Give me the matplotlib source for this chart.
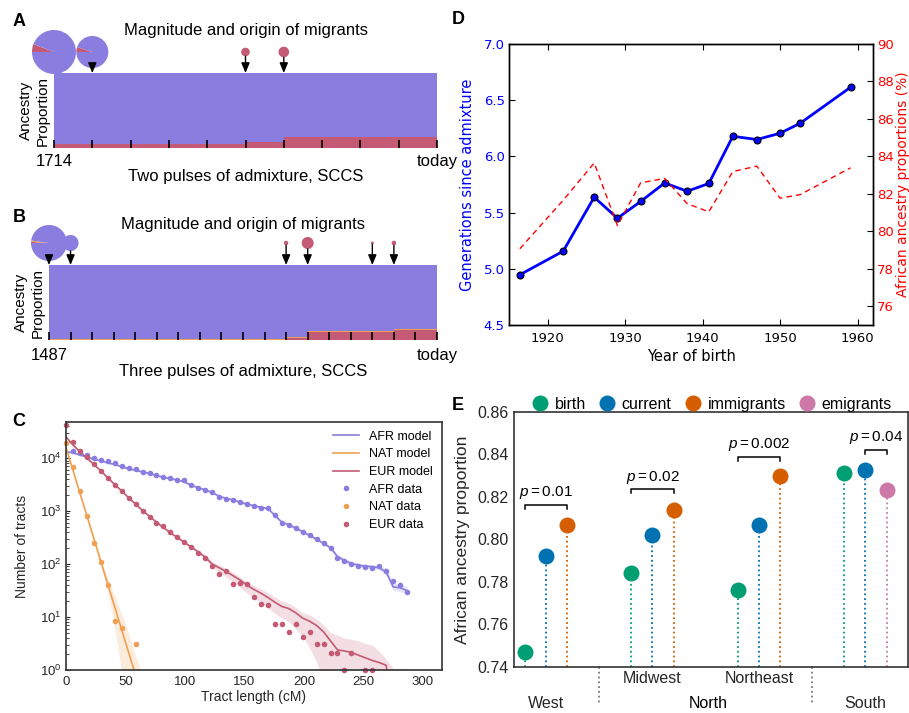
import numpy as np
import matplotlib
matplotlib.use("Agg")
import matplotlib.pyplot as plt
from matplotlib.patches import Wedge
from matplotlib.lines import Line2D
import matplotlib.transforms as mtransforms

plt.rcParams["font.family"] = ["Liberation Sans", "DejaVu Sans"]
plt.rcParams["mathtext.fontset"] = "custom"
plt.rcParams["mathtext.rm"] = "Liberation Sans"
plt.rcParams["mathtext.it"] = "Liberation Sans:italic"
plt.rcParams["mathtext.bf"] = "Liberation Sans:bold"

W, H = 909, 713

C_AFR = "#897ddf"
C_EUR = "#c45a73"
C_NAT = "#f0a052"

# ---- panels A/B: pulse models (ancestry per generation, migrant pulses) ----
A_EUR = [0.054, 0.054, 0.054, 0.054, 0.054, 0.085, 0.142, 0.142, 0.142, 0.142]
A_NAT = [0.0] * 10
A_PULSE_GEN = [0, 1, 5, 6]
A_PULSE_SIZE = [22, 16, 4.3, 5.3]
A_PULSE_EUR = [0.058, 0.05, 1.0, 1.0]
A_PULSE_NAT = [0.0, 0.0, 0.0, 0.0]

B_EUR = [0.0] * 11 + [0.027] + [0.11] * 4 + [0.13] * 2
B_NAT = [0.013] * 18
B_PULSE_GEN = [0, 1, 11, 12, 15, 16]
B_PULSE_SIZE = [18, 8, 2.2, 6, 1.5, 2.3]
B_PULSE_EUR = [0.01, 0.0, 1.0, 1.0, 1.0, 1.0]
B_PULSE_NAT = [0.012, 0.0, 0.0, 0.0, 0.0, 0.0]

# ---- panel C: tract length distribution (log10 counts per bin) ----
BIN_CM = 5.85
AFR_DATA_LOG10 = [4.14, 4.09, 4.05, 4.01, 3.97, 3.94, 3.91, 3.86, 3.82, 3.79,
                  3.74, 3.72, 3.68, 3.65, 3.62, 3.59, 3.58, 3.50, 3.43, 3.39,
                  3.36, 3.27, 3.23, 3.20, 3.17, 3.13, 3.10, 3.05, 3.05, 2.92,
                  2.78, 2.74, 2.68, 2.61, 2.54, 2.47, 2.39, 2.31, 2.12, 2.06,
                  2.00, 1.97, 1.95, 1.93, 1.96, 1.86, 1.68, 1.60, 1.48]  # bins 1..49
NAT_DATA_LOG10 = [4.28, 3.84, 3.38, 2.91, 2.39, 2.04, 1.60, 0.93, 0.80, np.nan, 0.50]
EUR_DATA_LOG10 = [4.63, 4.30, 4.14, 4.02, 3.88, 3.76, 3.63, 3.50, 3.37, 3.24,
                  3.13, 3.00, 2.89, 2.78, 2.71, 2.61, 2.51, 2.42, 2.32, 2.21,
                  2.12, 1.96, 1.81, 1.87, 1.63, 1.64, 1.62, 1.38, 1.25, 1.22,
                  0.87, 0.87, 0.72, 0.87, 0.62, 0.72, 0.50, 0.50, 0.33, 0.33,
                  0.0, 0.33, np.nan, 0.0, 0.0]

AFR_MODEL_LOG10 = [4.12, 4.10, 4.06, 4.02, 3.98, 3.95, 3.91, 3.88, 3.84, 3.80,
                   3.77, 3.74, 3.71, 3.67, 3.64, 3.61, 3.59, 3.55, 3.49, 3.44,
                   3.40, 3.35, 3.28, 3.24, 3.21, 3.17, 3.13, 3.10, 3.07, 3.05,
                   2.92, 2.79, 2.74, 2.68, 2.61, 2.54, 2.47, 2.39, 2.31, 2.14,
                   2.07, 2.01, 1.98, 1.96, 1.95, 1.93, 1.85, 1.57, 1.55, 1.50]
AFR_BAND_LOG10 = [0.02] * 30 + [0.03] * 9 + [0.04] * 7 + [0.07] * 4
NAT_MODEL_LOG10 = [4.20, 3.77, 3.34, 2.91, 2.48, 2.05, 1.62, 1.19, 0.76, 0.33, -0.10, -0.53]
NAT_BAND_UP = [0.02, 0.02, 0.02, 0.03, 0.04, 0.06, 0.10, 0.20, 0.30, 0.35, 0.35, 0.45]
NAT_BAND_DOWN = [0.02, 0.02, 0.02, 0.03, 0.05, 0.08, 0.15, 0.40, 0.80, 0.80, 0.80, 0.80]
EUR_MODEL_LOG10 = [4.40, 4.25, 4.12, 4.00, 3.88, 3.76, 3.63, 3.50, 3.38, 3.25,
                   3.13, 3.01, 2.90, 2.79, 2.69, 2.59, 2.50, 2.41, 2.32, 2.23,
                   2.13, 2.00, 1.93, 1.86, 1.78, 1.70, 1.60, 1.52, 1.45, 1.37,
                   1.28, 1.20, 1.16, 1.08, 0.98, 0.92, 0.84, 0.72, 0.55, 0.38,
                   0.36, 0.33, 0.28, 0.23, 0.18, 0.14, 0.09, -1.0, -1.0, -1.0]
EUR_BAND_UP = [0.02] * 20 + [0.04, 0.05, 0.05, 0.06, 0.06, 0.06, 0.06, 0.07, 0.08, 0.09,
                             0.10, 0.10, 0.10, 0.10, 0.10, 0.12, 0.12, 0.13, 0.15, 0.28,
                             0.24, 0.25, 0.27, 0.27, 0.29, 0.21, 0.11, 1.03, 1.03, 1.03]
EUR_BAND_DOWN = [0.02] * 20 + [0.05, 0.06, 0.08, 0.10, 0.12, 0.14, 0.15, 0.16, 0.18, 0.20,
                               0.21, 0.22, 0.25, 0.30, 0.35, 0.50, 0.70, 0.90, 1.0, 1.0,
                               1.0, 1.0, 1.0, 1.0, 1.0, 1.0, 1.0, 1.0, 1.0, 1.0]

# ---- panel D: by year of birth ----
BIRTH_YEAR = [1916.4, 1922.0, 1926.0, 1929.0, 1932.0, 1935.1, 1938.0,
              1940.8, 1943.9, 1947.0, 1950.0, 1952.6, 1959.1]
GENERATIONS = [4.947, 5.157, 5.637, 5.450, 5.599, 5.764, 5.690,
               5.759, 6.179, 6.150, 6.206, 6.295, 6.615]
AFR_PERCENT = [79.07, 81.66, 83.65, 80.31, 82.59, 82.82, 81.48,
               81.04, 83.19, 83.48, 81.77, 81.96, 83.39]

# ---- panel E: African ancestry by region ----
E_GROUPS = ["birth", "current", "immigrants", "emigrants"]
E_COLORS = ["#009E73", "#0072B2", "#D55E00", "#CC79A7"]
E_POS = {"birth": [0, 5, 10, 15], "current": [1, 6, 11, 16],
         "immigrants": [2, 7, 12], "emigrants": [17]}
E_VALUES = {"birth": [0.7471, 0.7844, 0.7764, 0.8315],
            "current": [0.7921, 0.8023, 0.8067, 0.8329],
            "immigrants": [0.8070, 0.8140, 0.8297],
            "emigrants": [0.8231]}
P_PAIRS = [(0, 2), (5, 7), (10, 12), (16, 17)]
P_LEVEL = [0.8164, 0.8236, 0.8390, 0.8423]
P_TEXT = ["0.01", "0.02", "0.002", "0.04"]

fig = plt.figure(figsize=(W / 100, H / 100), dpi=100)


def px_axes(x0, y0, x1, y1):
    return fig.add_axes([x0 / W, 1 - y1 / H, (x1 - x0) / W, (y1 - y0) / H])


def letter(x, y, s):
    fig.text(x / W, 1 - y / H, s, fontsize=13, fontweight="bold", ha="center", va="center")


def admixture_panel(rect, top, lift, eur, nat, gens, sizes, p_eur, p_nat,
                    start, caption, pad, title_y):
    x0, y0, x1, y1 = rect
    n = len(eur)
    eur = np.array(eur)
    nat = np.array(nat)
    idx = np.arange(n)
    ax = px_axes(*rect)
    ax.bar(idx, eur, width=1, align="edge", color=C_EUR, lw=0)
    ax.bar(idx, nat, bottom=eur, width=1, align="edge", color=C_NAT, lw=0)
    ax.bar(idx, 1 - eur - nat, bottom=eur + nat, width=1, align="edge", color=C_AFR, lw=0)
    ax.set_xlim(0, n)
    ax.set_ylim(0, 1)
    for s in ax.spines.values():
        s.set_visible(False)
    ax.set_yticks([])
    ax.set_xticks(np.arange(n + 1))
    ax.set_xticklabels([start] + [""] * (n - 1) + ["today"], fontsize=12)
    ax.tick_params(axis="x", direction="in", length=5.8, width=1.2, color="k", pad=pad)
    ax.set_xlabel(caption, fontsize=12, labelpad=0.5)
    ax.set_ylabel("Ancestry\nProportion", fontsize=11, linespacing=1.3, labelpad=3)

    # magnitude / origin of migrant pulses
    pax = px_axes(x0, top, x1, y0)
    upp = n / (x1 - x0)
    pax.set_xlim(0, n)
    pax.set_ylim(0, (y0 - top) * upp)
    pax.axis("off")
    cy = lift * upp
    for g, s, fe, fn in zip(gens, sizes, p_eur, p_nat):
        r = s * upp
        theta = 180.0
        for frac, col in [(fe, C_EUR), (fn, C_NAT), (1 - fe - fn, C_AFR)]:
            if frac <= 0:
                continue
            pax.add_patch(Wedge((g, cy), r, theta - 360 * frac, theta,
                                facecolor=col, edgecolor="none", clip_on=False))
            theta -= 360 * frac
        if cy - r > upp:
            pax.annotate("", xy=(g, 0), xytext=(g, cy - r), annotation_clip=False,
                         arrowprops=dict(arrowstyle="-|>,head_length=0.6,head_width=0.25",
                                         color="k", lw=1, shrinkA=0, shrinkB=0,
                                         mutation_scale=10))
    fig.text((x0 + x1) / 2 / W, 1 - title_y / H, "Magnitude and origin of migrants",
             fontsize=12, ha="center", va="center")


admixture_panel((54, 73, 437, 148), 25, 21, A_EUR, A_NAT, A_PULSE_GEN, A_PULSE_SIZE,
                A_PULSE_EUR, A_PULSE_NAT, "1714", "Two pulses of admixture, SCCS", 4, 30)
admixture_panel((49, 265, 437, 340), 215, 22, B_EUR, B_NAT, B_PULSE_GEN, B_PULSE_SIZE,
                B_PULSE_EUR, B_PULSE_NAT, "1487", "Three pulses of admixture, SCCS", 6, 225)
letter(19, 21, "A")
letter(19, 217, "B")

# ---- panel C ----
axc = px_axes(66, 422, 442, 670)
bins = np.arange(50) * BIN_CM


def model(ax, vals, up, down, color, label):
    v = np.array(vals)
    x = bins[:len(v)]
    ax.fill_between(x, 10 ** (v - np.array(down)), 10 ** (v + np.array(up)),
                    color=color, alpha=0.2, lw=0)
    ax.plot(x, 10 ** v, color=color, lw=1.2, label=label)


model(axc, AFR_MODEL_LOG10, AFR_BAND_LOG10, AFR_BAND_LOG10, C_AFR, "AFR model")
model(axc, NAT_MODEL_LOG10, NAT_BAND_UP, NAT_BAND_DOWN, C_NAT, "NAT model")
model(axc, EUR_MODEL_LOG10, EUR_BAND_UP, EUR_BAND_DOWN, C_EUR, "EUR model")
axc.plot(bins[1:1 + len(AFR_DATA_LOG10)], 10 ** np.array(AFR_DATA_LOG10), "o", ms=4,
         mew=0, color=C_AFR, label="AFR data", clip_on=False)
axc.plot(bins[:len(NAT_DATA_LOG10)], 10 ** np.array(NAT_DATA_LOG10), "o", ms=4,
         mew=0, color=C_NAT, label="NAT data", clip_on=False)
axc.plot(bins[:len(EUR_DATA_LOG10)], 10 ** np.array(EUR_DATA_LOG10), "o", ms=4,
         mew=0, color=C_EUR, label="EUR data", clip_on=False)
axc.set_yscale("log")
axc.set_xlim(0, 316)
axc.set_ylim(1, 48000)
axc.set_xticks([0, 50, 100, 150, 200, 250, 300])
for s in axc.spines.values():
    s.set_color("#333333")
    s.set_linewidth(1.2)
axc.tick_params(axis="both", which="both", direction="in", colors="#262626", labelsize=9.5)
axc.tick_params(axis="x", length=0, pad=4)
axc.tick_params(axis="y", which="major", length=3, pad=3)
axc.tick_params(axis="y", which="minor", length=2)
axc.set_xlabel("Tract length (cM)", fontsize=10, color="#262626", labelpad=2)
axc.set_ylabel("Number of tracts", fontsize=10, color="#262626", labelpad=8)
axc.legend(loc="upper right", frameon=False, fontsize=9, handlelength=2.1,
           handletextpad=0.8, labelspacing=0.45, borderaxespad=0.3, numpoints=1)
letter(19, 422, "C")

# ---- panel D ----
axd = px_axes(509, 44, 873, 325)
axd.plot(BIRTH_YEAR, GENERATIONS, color="b", lw=2, marker="o", ms=5,
         mfc="b", mec="k", mew=0.8)
axd.set_xlim(1915, 1962)
axd.set_ylim(4.5, 7.0)
axd.set_xticks([1920, 1930, 1940, 1950, 1960])
axd.set_yticks([4.5, 5.0, 5.5, 6.0, 6.5, 7.0])
axd.set_yticklabels(["4.5", "5.0", "5.5", "6.0", "6.5", "7.0"])
axd2 = axd.twinx()
axd2.plot(BIRTH_YEAR, AFR_PERCENT, color="r", lw=1, ls="--", dashes=(4, 3))
axd2.set_ylim(75, 90)
axd2.set_yticks([76, 78, 80, 82, 84, 86, 88, 90])
for a in (axd, axd2):
    for s in a.spines.values():
        s.set_color("k")
        s.set_linewidth(1)
    for lab in a.get_xticklabels() + a.get_yticklabels():
        lab.set_family("DejaVu Sans")
axd.tick_params(axis="x", direction="in", length=4, top=True, labelsize=9.5, pad=5)
axd.tick_params(axis="y", direction="in", length=4, colors="k", labelsize=9.5, labelcolor="b", pad=3)
axd2.tick_params(axis="y", direction="in", length=4, labelsize=9.5, labelcolor="r", pad=3)
axd.set_xlabel("Year of birth", fontsize=10.5, family="DejaVu Sans", labelpad=3)
axd.set_ylabel("Generations since admixture", fontsize=10.5, color="b",
               family="DejaVu Sans", labelpad=6)
axd2.set_ylabel("African ancestry proportions (%)", fontsize=10, color="r",
                family="DejaVu Sans", labelpad=1.5)
letter(458, 20, "D")

# ---- panel E ----
axe = px_axes(514, 412, 908, 667)
handles = []
for grp, col in zip(E_GROUPS, E_COLORS):
    xs, ys = E_POS[grp], E_VALUES[grp]
    axe.vlines(xs, 0.74, ys, colors=col, linestyles=":", lw=1.3, zorder=2)
    axe.plot(xs, ys, "o", ms=11.5, color=col, mew=0, zorder=3)
    handles.append(Line2D([], [], marker="o", ls="", ms=11.5, color=col, mew=0))
for (a, b), lev, txt in zip(P_PAIRS, P_LEVEL, P_TEXT):
    axe.plot([a, a, b, b], [lev - 0.0019, lev, lev, lev - 0.0019], color="k", lw=1.1)
    axe.text((a + b) / 2, lev + 0.0016, r"$p = %s$" % txt, ha="center", va="bottom",
             fontsize=11)
axe.set_xlim(-0.5, 18)
axe.set_ylim(0.74, 0.86)
axe.set_yticks([0.74, 0.76, 0.78, 0.80, 0.82, 0.84, 0.86])
axe.set_yticklabels(["0.74", "0.76", "0.78", "0.80", "0.82", "0.84", "0.86"])
axe.set_xticks([])
axe.tick_params(axis="y", length=0, labelsize=11.5, colors="#262626", pad=4)
for s in axe.spines.values():
    s.set_color("#333333")
    s.set_linewidth(1.2)
axe.set_ylabel("African ancestry proportion", fontsize=12.5, color="#262626", labelpad=5)
axe.legend(handles, E_GROUPS, loc="lower center", bbox_to_anchor=(0.5, 1.0), ncol=4,
           frameon=False, fontsize=11.5, handletextpad=0.34, columnspacing=0.71,
           borderaxespad=0, borderpad=0, handlelength=1.2)
trans = mtransforms.blended_transform_factory(axe.transData, axe.transAxes)
for x, y, s, c in [(6, -0.047, "Midwest", "#262626"), (11, -0.047, "Northeast", "#262626"),
                   (1, -0.145, "West", "#262626"), (8.6, -0.145, "North", "black"),
                   (16, -0.145, "South", "#262626")]:
    axe.text(x, y, s, transform=trans, ha="center", va="center", fontsize=11.5, color=c)
for x in (3.5, 13.5):
    axe.plot([x, x], [0, -0.14], transform=trans, color="#777777", ls=":", lw=1.3,
             clip_on=False)
letter(458, 405, "E")

fig.savefig("out.png", dpi=100)
